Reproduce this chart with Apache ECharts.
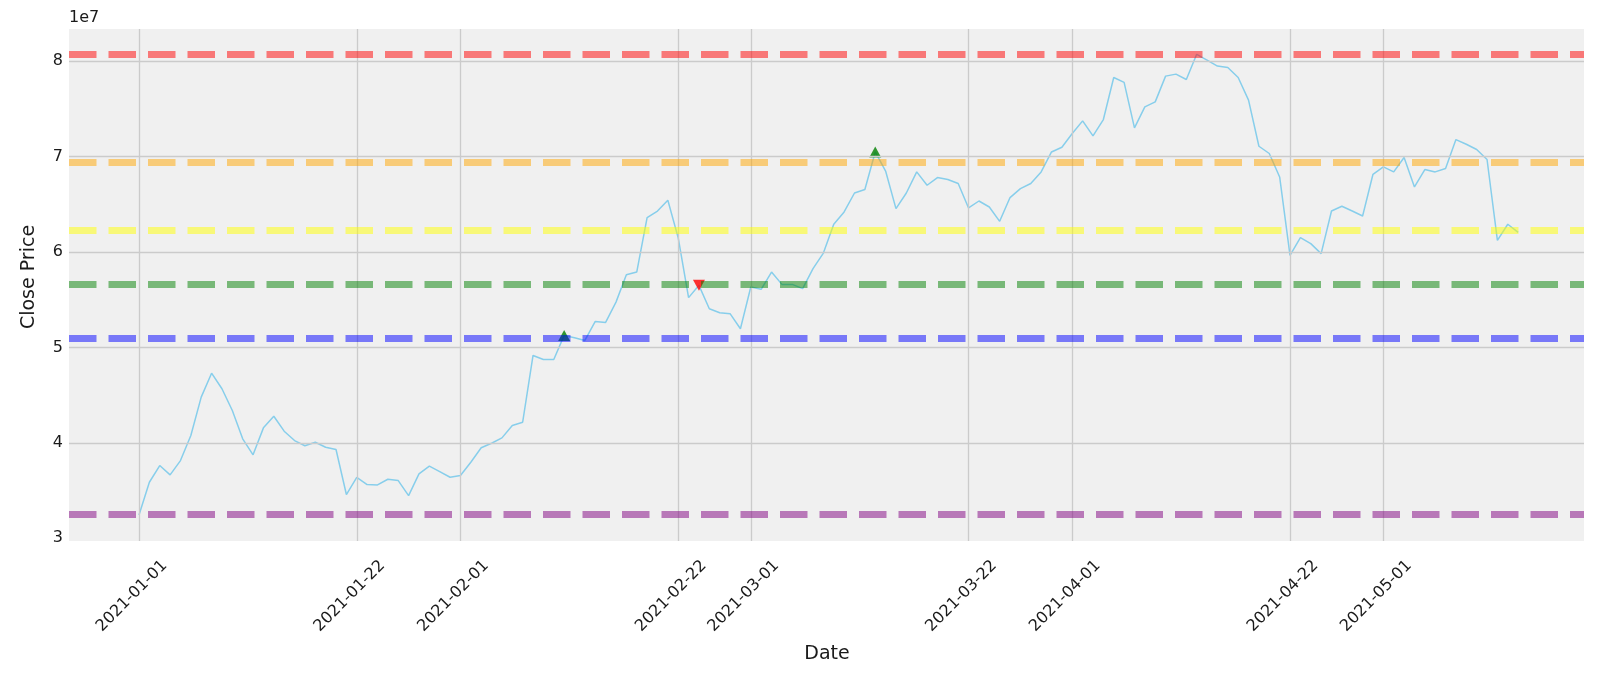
<!DOCTYPE html>
<html>
<head>
<meta charset="utf-8">
<script src="https://cdn.jsdelivr.net/npm/echarts@6/dist/echarts.min.js"></script>
<style>
html,body{margin:0;padding:0;background:#ffffff;}
#chart{width:1600px;height:681px;}
</style>
</head>
<body>
<div id="chart"></div>
<script>
// ---- data (prices in units of 1e7) ----
const dates = [
 '2021-01-01','2021-01-02','2021-01-03','2021-01-04','2021-01-05','2021-01-06','2021-01-07','2021-01-08','2021-01-09','2021-01-10',
 '2021-01-11','2021-01-12','2021-01-13','2021-01-14','2021-01-15','2021-01-16','2021-01-17','2021-01-18','2021-01-19','2021-01-20',
 '2021-01-21','2021-01-22','2021-01-23','2021-01-24','2021-01-25','2021-01-26','2021-01-27','2021-01-28','2021-01-29','2021-01-30','2021-01-31',
 '2021-02-01','2021-02-02','2021-02-03','2021-02-04','2021-02-05','2021-02-06','2021-02-07','2021-02-08','2021-02-09','2021-02-10',
 '2021-02-11','2021-02-12','2021-02-13','2021-02-14','2021-02-15','2021-02-16','2021-02-17','2021-02-18','2021-02-19','2021-02-20',
 '2021-02-21','2021-02-22','2021-02-23','2021-02-24','2021-02-25','2021-02-26','2021-02-27','2021-02-28',
 '2021-03-01','2021-03-02','2021-03-03','2021-03-04','2021-03-05','2021-03-06','2021-03-07','2021-03-08','2021-03-09','2021-03-10',
 '2021-03-11','2021-03-12','2021-03-13','2021-03-14','2021-03-15','2021-03-16','2021-03-17','2021-03-18','2021-03-19','2021-03-20',
 '2021-03-21','2021-03-22','2021-03-23','2021-03-24','2021-03-25','2021-03-26','2021-03-27','2021-03-28','2021-03-29','2021-03-30','2021-03-31',
 '2021-04-01','2021-04-02','2021-04-03','2021-04-04','2021-04-05','2021-04-06','2021-04-07','2021-04-08','2021-04-09','2021-04-10',
 '2021-04-11','2021-04-12','2021-04-13','2021-04-14','2021-04-15','2021-04-16','2021-04-17','2021-04-18','2021-04-19','2021-04-20',
 '2021-04-21','2021-04-22','2021-04-23','2021-04-24','2021-04-25','2021-04-26','2021-04-27','2021-04-28','2021-04-29','2021-04-30',
 '2021-05-01','2021-05-02','2021-05-03','2021-05-04','2021-05-05','2021-05-06','2021-05-07','2021-05-08','2021-05-09','2021-05-10',
 '2021-05-11','2021-05-12','2021-05-13','2021-05-14'
];
const closePrice = [
 3.245,3.588,3.763,3.665,3.815,4.078,4.48,4.731,4.568,4.34,
 4.043,3.875,4.158,4.28,4.123,4.025,3.97,4.007,3.955,3.931,
 3.459,3.64,3.563,3.56,3.619,3.605,3.448,3.676,3.756,3.70,3.64,
 3.658,3.798,3.949,3.997,4.053,4.183,4.217,4.917,4.875,4.875,
 5.127,5.103,5.074,5.274,5.263,5.476,5.764,5.791,6.362,6.431,
 6.544,6.15,5.523,5.652,5.407,5.365,5.355,5.197,
 5.634,5.61,5.791,5.662,5.662,5.617,5.827,5.99,6.292,6.421,
 6.62,6.656,7.05,6.85,6.456,6.62,6.841,6.701,6.782,6.761,
 6.719,6.463,6.536,6.473,6.323,6.572,6.666,6.719,6.841,7.05,7.10,
 7.243,7.376,7.218,7.39,7.831,7.779,7.302,7.523,7.575,7.845,
 7.866,7.81,8.074,8.013,7.95,7.936,7.831,7.593,7.11,7.034,
 6.788,5.966,6.152,6.089,5.984,6.431,6.481,6.431,6.379,6.816,
 6.893,6.841,6.992,6.683,6.866,6.841,6.876,7.18,7.131,7.076,
 6.971,6.124,6.292,6.208
];
const buyDates = ['2021-02-11','2021-03-13'];
const buyPrices = [5.127, 7.05];
const sellDates = ['2021-02-24'];
const sellPrices = [5.652];
const fibLevels = [8.074, 6.936, 6.231, 5.662, 5.103, 3.245];
const fibColors = ['#ff0000','#ffa500','#ffff00','#008000','#0000ff','#800080'];
const xTickDates = ['2021-01-01','2021-01-22','2021-02-01','2021-02-22','2021-03-01','2021-03-22','2021-04-01','2021-04-22','2021-05-01'];
const yTicks = [3,4,5,6,7,8];
const yGridTicks = [4,5,6,7,8];

// ---- helpers ----
const DAY = 86400000;
const ts = d => Date.parse(d);
const pad = n => (n < 10 ? '0' : '') + n;
const fmtDate = v => { const d = new Date(v); return d.getUTCFullYear() + '-' + pad(d.getUTCMonth() + 1) + '-' + pad(d.getUTCDate()); };
const xTickTs = xTickDates.map(ts);
const t0 = ts(dates[0]);
const FONT = 'DejaVu Sans';
const TXT = '#1a1a1a';

const chart = echarts.init(document.getElementById('chart'), null, {renderer: 'canvas'});
chart.setOption({
  animation: false,
  backgroundColor: '#ffffff',
  grid: {left: 69, right: 16, top: 29, bottom: 140, show: true, backgroundColor: '#f0f0f0', borderWidth: 0},
  xAxis: {
    type: 'value',
    min: t0 - 6.75 * DAY,
    max: t0 + 139.35 * DAY,
    axisLine: {show: false},
    axisTick: {show: false, customValues: xTickTs},
    splitLine: {show: false},
    axisLabel: {
      customValues: xTickTs,
      formatter: v => fmtDate(v),
      rotate: 45,
      align: 'center',
      verticalAlign: 'middle',
      padding: [0, 20, 0, 0],
      margin: 48,
      fontSize: 16,
      fontFamily: FONT,
      color: TXT,
      hideOverlap: false
    }
  },
  yAxis: {
    type: 'value',
    min: 2.972,
    max: 8.339,
    axisLine: {show: false},
    axisTick: {show: false},
    splitLine: {show: false},
    axisLabel: {
      customValues: yTicks,
      formatter: v => String(Math.round(v)),
      margin: 6,
      fontSize: 16,
      fontFamily: FONT,
      color: TXT
    }
  },
  graphic: [
    {type: 'text', left: 69, top: 10, style: {text: '1e7', fontSize: 16, fontFamily: FONT, fill: TXT}},
    {type: 'text', x: 29, y: 277, rotation: Math.PI / 2,
     style: {text: 'Close Price', fontSize: 19, fontFamily: FONT, fill: TXT, align: 'center', verticalAlign: 'middle'}},
    {type: 'text', x: 827, y: 654,
     style: {text: 'Date', fontSize: 19, fontFamily: FONT, fill: TXT, align: 'center', verticalAlign: 'middle'}}
  ],
  series: [
    {
      name: 'grid', type: 'line', data: [], z: 1, silent: true,
      markLine: {
        silent: true, symbol: 'none', label: {show: false}, animation: false,
        lineStyle: {color: '#cbcbcb', width: 1.3, type: 'solid'},
        data: xTickTs.map(t => ({xAxis: t})).concat(yGridTicks.map(v => ({yAxis: v})))
      }
    },
    {
      name: 'Close', type: 'line', z: 2, showSymbol: false, silent: true,
      data: dates.map((d, i) => [ts(d), closePrice[i]]),
      lineStyle: {color: '#87ceeb', width: 1.5}
    },
    {
      name: 'Buy', type: 'scatter', z: 3, symbol: 'triangle', symbolSize: [12, 11],
      data: buyDates.map((d, i) => [ts(d), buyPrices[i]]),
      itemStyle: {color: '#008000'}
    },
    {
      name: 'Sell', type: 'scatter', z: 3, symbol: 'triangle', symbolRotate: 180, symbolSize: [12, 11],
      data: sellDates.map((d, i) => [ts(d), sellPrices[i]]),
      itemStyle: {color: '#ff0000'}
    },
    {
      name: 'fib', type: 'line', data: [], z: 4, silent: true,
      markLine: {
        silent: true, symbol: 'none', label: {show: false}, animation: false,
        lineStyle: {width: 7, type: [27.5, 12], opacity: 0.5, cap: 'butt'},
        data: fibLevels.map((v, i) => ({yAxis: v, lineStyle: {color: fibColors[i]}}))
      }
    }
  ]
});
</script>
</body>
</html>
